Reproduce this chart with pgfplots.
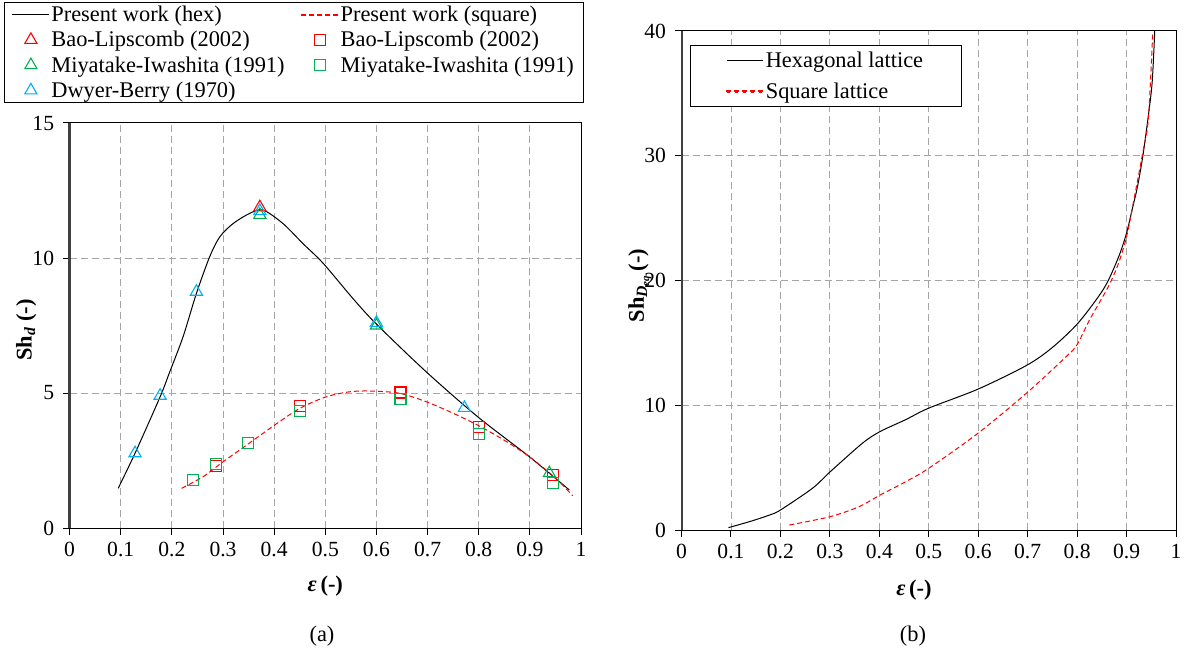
\documentclass[border=0pt]{standalone}
\usepackage{fontspec}
\setmainfont{Liberation Serif}
\usepackage{pgfplots}
\pgfplotsset{compat=1.18}
\definecolor{myred}{RGB}{255,0,0}
\definecolor{mygreen}{RGB}{0,176,80}
\definecolor{mycyan}{RGB}{0,176,240}
\definecolor{gridgray}{RGB}{165,165,165}
\definecolor{spine}{RGB}{64,64,64}
\begin{document}
\begin{tikzpicture}
\useasboundingbox (0pt,0pt) rectangle (1184pt,657pt);
\pgfplotsset{
  every axis/.append style={
    scale only axis, clip=false,
    font=\fontsize{22.4}{26}\selectfont,
    tick label style={font=\fontsize{21.6}{25}\selectfont},
    yticklabel style={xshift=-5pt},
    xticklabel style={yshift=-4pt},
    /pgf/number format/assume math mode=true,
    tick align=outside, xtick pos=bottom, ytick pos=left,
    major tick length=7pt,
    axis line style={line width=1pt},
    tick style={line width=1pt, black},
    xmin=0, xmax=1,
    xtick={0,0.1,0.2,0.3,0.4,0.5,0.6,0.7,0.8,0.9,1},
    xticklabels={0,0.1,0.2,0.3,0.4,0.5,0.6,0.7,0.8,0.9,1},
    extra x ticks={0.1,0.2,0.3,0.4,0.5,0.6,0.7,0.8,0.9},
    extra x tick labels={},
    extra x tick style={xmajorgrids=true, major tick length=0pt},
    extra y tick labels={},
    extra y tick style={ymajorgrids=true, major tick length=0pt},
    major grid style={gridgray, dash pattern=on 7pt off 4pt, line width=0.9pt},
    xlabel={\textbf{\textit{ε}\,(-)}},
    legend cell align=left,
  },
  mk/.style={only marks, mark options={solid, line width=1.1pt}},
}
% ---------- (a) ----------
\begin{axis}[
  at={(69.6pt,129pt)}, anchor=south west,
  width=511.4pt, height=405pt,
  ymin=0, ymax=15, ytick={0,5,10,15}, extra y ticks={5,10},
  ylabel={\textbf{Sh\textsubscript{\textit{d}} (-)}},
  ylabel style={at={(axis description cs:-0.085,0.489)}, anchor=center},
  xlabel style={at={(axis description cs:0.5,-0.143)}, anchor=center},
  legend columns=2,
  legend image code/.code={\draw[mark repeat=2,mark phase=2,#1] plot coordinates {(0pt,0pt) (19pt,0pt) (37pt,0pt)};},
  legend style={at={(axis description cs:-0.1283,1.2995)}, anchor=north west,
    draw=black, line width=0.8pt, inner xsep=7pt, inner ysep=2pt,
    nodes={inner sep=2pt}, row sep=4.2pt,
    /tikz/every even column/.append style={column sep=14pt}},
]
\addplot[black, line width=1pt, smooth,
  legend image code/.code={\draw[draw=black, line width=1pt] (0pt,0pt) -- (37pt,0pt);}] coordinates {
(0.095,1.47) (0.128,2.77) (0.177,4.86) (0.196,5.79) (0.222,7.09) (0.248,8.69)
(0.274,10.05) (0.294,10.79) (0.320,11.28) (0.352,11.65) (0.378,11.78) (0.417,11.28)
(0.456,10.54) (0.496,9.8) (0.554,8.5) (0.600,7.55) (0.697,5.79) (0.798,4.12)
(0.899,2.64) (0.977,1.41)};
\addlegendentry{Present work (hex)}
\addplot[draw=myred, color=myred, line width=1pt, dash pattern=on 5pt off 3pt, smooth,
  legend image code/.code={\foreach \i in {0,8,16,24,32} {\fill[myred] (\i pt,-0.6pt) rectangle ++(5pt,1.2pt);}}] coordinates {
(0.219,1.47) (0.261,1.9) (0.300,2.45) (0.346,3.07) (0.400,3.8) (0.450,4.43)
(0.502,4.86) (0.550,5.05) (0.593,5.07) (0.645,4.99) (0.697,4.68) (0.750,4.25)
(0.798,3.81) (0.850,3.25) (0.899,2.64) (0.950,1.85) (0.984,1.19)};
\addlegendentry{Present work (square)}
\addplot[myred, mk, mark=triangle, mark size=7pt] coordinates {(0.372,11.88)};
\addlegendentry{Bao-Lipscomb (2002)}
\addplot[myred, mk, mark=square, mark size=5.5pt] coordinates {
(0.286,2.28) (0.451,4.52) (0.647,5.02) (0.800,3.75) (0.946,1.95)};
\addlegendentry{Bao-Lipscomb (2002)}
\addplot[mygreen, mk, mark=triangle, mark size=7pt] coordinates {
(0.372,11.6) (0.6,7.5) (0.938,2.03)};
\addlegendentry{Miyatake-Iwashita (1991)}
\addplot[mygreen, mk, mark=square, mark size=5.5pt] coordinates {
(0.242,1.78) (0.286,2.38) (0.348,3.14) (0.451,4.35) (0.647,4.77) (0.800,3.48) (0.946,1.68)};
\addlegendentry{Miyatake-Iwashita (1991)}
\addplot[mycyan, mk, mark=triangle, mark size=7pt] coordinates {
(0.128,2.77) (0.177,4.9) (0.248,8.75) (0.372,11.74) (0.6,7.6) (0.772,4.45)};
\addlegendentry{Dwyer-Berry (1970)}
\draw[line width=2.6pt, spine] (rel axis cs:0,0) -- (rel axis cs:0,1);
\end{axis}
% ---------- (b) ----------
\begin{axis}[
  at={(681.5pt,127pt)}, anchor=south west,
  width=494.5pt, height=499pt,
  ymin=0, ymax=40, ytick={0,10,20,30,40}, extra y ticks={10,20,30},
  ylabel={\textbf{Sh\textsubscript{\textit{D}\textsubscript{\textit{eq}}}\,(-)}},
  ylabel style={at={(axis description cs:-0.084,0.49)}, anchor=center},
  xlabel style={at={(axis description cs:0.47,-0.12)}, anchor=center},
  legend style={at={(axis description cs:0.017,0.972)}, anchor=north west,
    draw=black, line width=0.8pt, inner xsep=36pt, inner ysep=4.5pt,
    nodes={inner sep=2pt}, row sep=10pt},
]
\addplot[draw=black, line width=1pt, smooth,
  legend image code/.code={\draw[draw=black, line width=1pt] (0pt,0pt) -- (36pt,0pt);}] coordinates {
(0.095,0.19) (0.14,0.7) (0.178,1.2) (0.2,1.6) (0.265,3.35) (0.301,4.68)
(0.366,6.96) (0.402,7.9) (0.453,8.84) (0.5,9.77) (0.6,11.3) (0.698,13.2)
(0.749,14.6) (0.8,16.5) (0.843,18.7) (0.863,20) (0.885,22) (0.9,23.8)
(0.912,25.8) (0.922,27.5) (0.933,30) (0.945,33.5) (0.952,36) (0.957,40)};
\addlegendentry{Hexagonal lattice}
\addplot[draw=myred, color=myred, line width=1pt, dash pattern=on 5pt off 3pt, smooth,
  legend image code/.code={\foreach \i in {0,8,16,24,32} {\fill[myred] (\i pt,-0.6pt) rectangle ++(4.5pt,1.2pt);}}] coordinates {
(0.218,0.4) (0.301,1.07) (0.359,1.87) (0.402,2.81) (0.45,3.8) (0.5,4.95)
(0.6,7.77) (0.698,10.98) (0.778,13.9) (0.8,14.86) (0.826,16.9) (0.863,19.5)
(0.883,21.3) (0.9,23.5) (0.915,26.5) (0.933,30.3) (0.944,32.9) (0.953,39.9)};
\addlegendentry{Square lattice}
\draw[line width=2pt, spine] (rel axis cs:0,0) -- (rel axis cs:0,1);
\end{axis}
\node[font=\fontsize{22.4}{26}\selectfont] at (322pt,21pt) {(a)};
\node[font=\fontsize{22.4}{26}\selectfont] at (913pt,21pt) {(b)};
\end{tikzpicture}
\end{document}
